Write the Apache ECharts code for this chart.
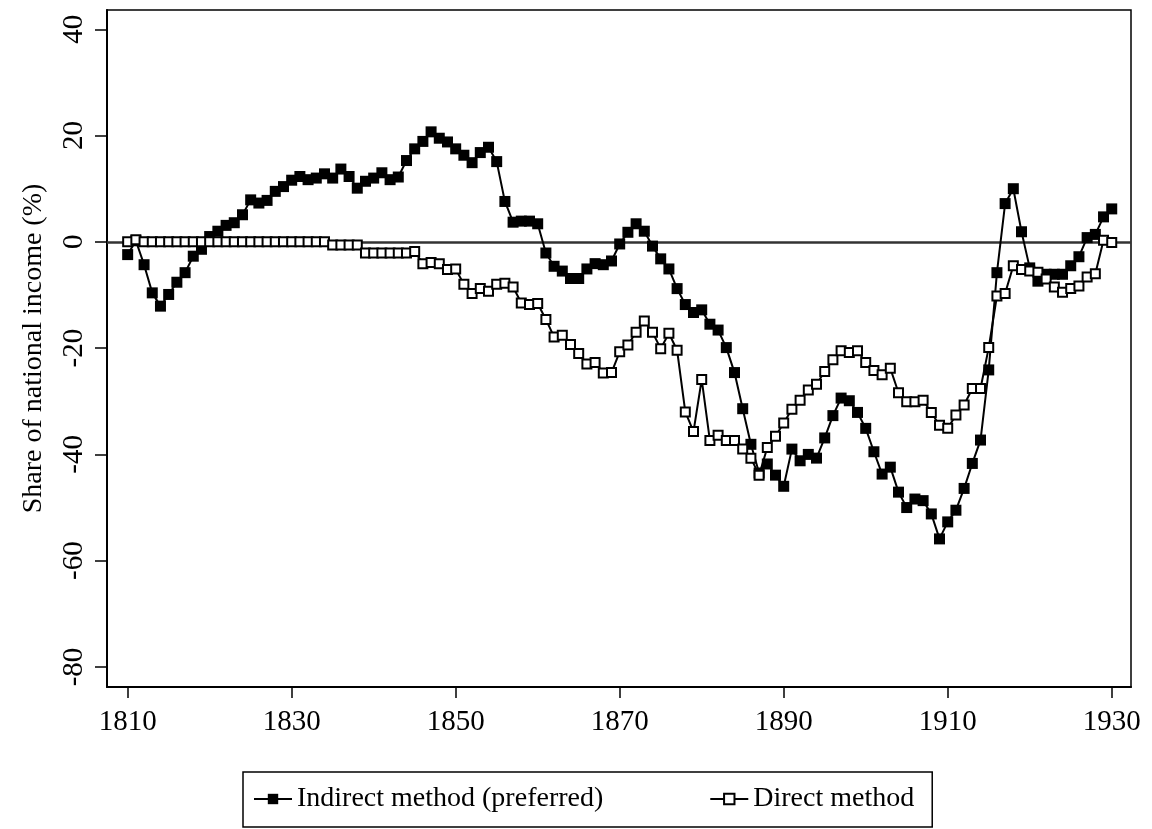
<!DOCTYPE html>
<html lang="en">

<head>
  <meta charset="UTF-8" />
  <title>Share of national income</title>
  <script src="https://cdn.jsdelivr.net/npm/echarts@6/dist/echarts.min.js"></script>
  <style>
    html, body { margin: 0; padding: 0; background: #fff; }
    #chart { width: 1152px; height: 829px; }
  </style>
</head>

<body>
  <div id="chart"></div>

  <script>
    const chart = echarts.init(document.getElementById('chart'));

    // years 1810..1930
    const years = [];
    for (let y = 1810; y <= 1930; y++) years.push(y);

    const indirect = [
      -2.4, 0.2, -4.3, -9.6, -12.1, -9.9, -7.6, -5.8, -2.7, -1.4,
      1.0, 2.0, 3.1, 3.6, 5.1, 7.9, 7.3, 7.8, 9.5, 10.4,
      11.6, 12.3, 11.7, 12.0, 12.8, 12.0, 13.7, 12.3, 10.1, 11.4,
      12.0, 13.0, 11.7, 12.2, 15.3, 17.5, 18.9, 20.7, 19.5, 18.8,
      17.5, 16.3, 14.9, 16.8, 17.8, 15.1, 7.6, 3.7, 3.9, 3.9,
      3.4, -2.1, -4.6, -5.5, -6.9, -6.9, -5.1, -4.1, -4.3, -3.6,
      -0.4, 1.8, 3.4, 2.0, -0.8, -3.2, -5.1, -8.8, -11.8, -13.3,
      -12.8, -15.5, -16.6, -19.9, -24.6, -31.4, -38.1, -43.5, -41.8, -43.9,
      -46.0, -39.0, -41.2, -40.0, -40.7, -36.9, -32.7, -29.4, -29.9, -32.1,
      -35.1, -39.5, -43.7, -42.4, -47.1, -50.0, -48.4, -48.7, -51.2, -55.9,
      -52.7, -50.5, -46.4, -41.7, -37.3, -24.1, -5.8, 7.2, 10.0, 1.9,
      -4.9, -7.4, -6.1, -6.1, -6.1, -4.5, -2.8, 0.8, 1.4, 4.7,
      6.2
    ];

    const direct = [
      0, 0.4, 0, 0, 0, 0, 0, 0, 0, 0,
      0, 0, 0, 0, 0, 0, 0, 0, 0, 0,
      0, 0, 0, 0, 0, -0.6, -0.6, -0.6, -0.6, -2.1,
      -2.1, -2.1, -2.1, -2.1, -2.1, -1.8, -4.1, -3.9, -4.1, -5.2,
      -5.1, -8.0, -9.7, -8.8, -9.3, -8.0, -7.8, -8.5, -11.5, -11.8,
      -11.6, -14.6, -17.9, -17.6, -19.3, -21.0, -23.0, -22.7, -24.7, -24.6,
      -20.7, -19.4, -17.0, -14.9, -17.0, -20.1, -17.2, -20.4, -32.0, -35.7,
      -25.9, -37.4, -36.4, -37.4, -37.4, -39.0, -40.7, -43.9, -38.7, -36.6,
      -34.1, -31.5, -29.8, -27.9, -26.8, -24.4, -22.2, -20.5, -20.8, -20.5,
      -22.7, -24.2, -25.0, -23.8, -28.4, -30.1, -30.1, -29.8, -32.1, -34.5,
      -35.1, -32.6, -30.7, -27.6, -27.6, -19.9, -10.2, -9.7, -4.5, -5.2,
      -5.5, -5.7, -7.0, -8.5, -9.5, -8.8, -8.3, -6.6, -6.0, 0.3,
      -0.1
    ];

    const xTicks = [1810, 1830, 1850, 1870, 1890, 1910, 1930];
    const yTicks = [-80, -60, -40, -20, 0, 20, 40];

    const font = 'Liberation Serif';

    const option = {
      animation: false,
      backgroundColor: '#fff',
      grid: {
        left: 107,
        right: 21,
        top: 10,
        bottom: 142,
        show: true,
        borderColor: '#000',
        borderWidth: 1.5
      },
      legend: {
        left: 243,
        top: 772,
        padding: [13, 18, 14, 10],
        itemGap: 106,
        itemWidth: 38,
        itemHeight: 13,
        selectedMode: false,
        borderColor: '#000',
        borderWidth: 1.5,
        textStyle: { fontFamily: font, fontSize: 28, color: '#000' },
        data: ['Indirect method (preferred)', 'Direct method']
      },
      xAxis: {
        type: 'value',
        min: 1807.48,
        max: 1932.35,
        splitLine: { show: false },
        axisLine: { onZero: false, lineStyle: { color: '#000', width: 2 } },
        axisTick: { customValues: xTicks, length: 11, lineStyle: { color: '#000', width: 1.5 } },
        axisLabel: {
          customValues: xTicks,
          margin: 21,
          fontFamily: font,
          fontSize: 29,
          color: '#000',
          formatter: v => String(v)
        }
      },
      yAxis: {
        type: 'value',
        min: -83.77,
        max: 43.63,
        name: 'Share of national income (%)',
        nameLocation: 'middle',
        nameGap: 59,
        nameTextStyle: { fontFamily: font, fontSize: 28, color: '#000' },
        splitLine: { show: false },
        axisLine: { onZero: false, lineStyle: { color: '#000', width: 2 } },
        axisTick: { customValues: yTicks, length: 12, lineStyle: { color: '#000', width: 1.5 } },
        axisLabel: {
          customValues: yTicks,
          rotate: 90,
          margin: 18,
          fontFamily: font,
          fontSize: 29,
          color: '#000',
          formatter: v => String(v)
        }
      },
      series: [
        {
          name: 'Indirect method (preferred)',
          type: 'line',
          data: years.map((y, i) => [y, indirect[i]]),
          symbol: 'rect',
          symbolSize: 11,
          showAllSymbol: true,
          lineStyle: { color: '#000', width: 2 },
          itemStyle: { color: '#000' },
          markLine: {
            silent: true,
            symbol: 'none',
            z: 1,
            label: { show: false },
            lineStyle: { color: '#333', width: 2.5, type: 'solid' },
            data: [{ yAxis: 0 }]
          }
        },
        {
          name: 'Direct method',
          type: 'line',
          data: years.map((y, i) => [y, direct[i]]),
          symbol: 'rect',
          symbolSize: 9,
          showAllSymbol: true,
          lineStyle: { color: '#000', width: 2 },
          itemStyle: { color: '#fff', borderColor: '#000', borderWidth: 2 }
        }
      ]
    };

    chart.setOption(option);
  </script>
</body>

</html>
